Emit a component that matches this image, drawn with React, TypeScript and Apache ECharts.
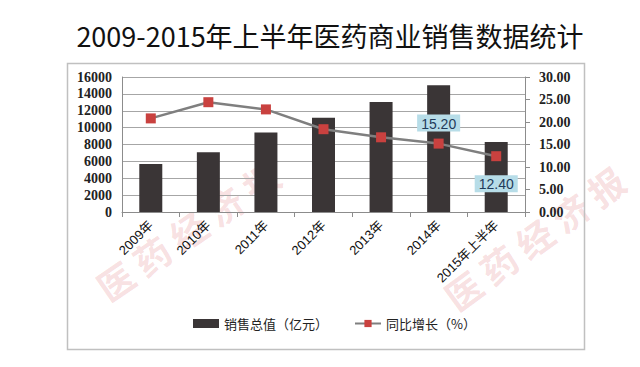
import React, { useEffect, useRef } from "react";
import * as echarts from "echarts";

const categories = ["2009年", "2010年", "2011年", "2012年", "2013年", "2014年", "2015年上半年"];
const salesValues = [5684, 7084, 9426, 11174, 13036, 15021, 8300];
const growthValues = [20.8, 24.4, 22.8, 18.4, 16.6, 15.2, 12.4];
const labeledGrowth = [false, false, false, false, false, true, true];
const leftTicks = { min: 0, max: 16000, interval: 2000 };
const rightTicks = { min: 0, max: 30, interval: 5 };
const titleText = "2009-2015年上半年医药商业销售数据统计";
const salesName = "销售总值（亿元）";
const growthName = "同比增长（%）";
const watermark = "医药经济报";

export default function App() {
  const ref = useRef<HTMLDivElement>(null);
  useEffect(() => {
    if (!ref.current) return;
    const chart = echarts.init(ref.current, undefined, { renderer: "svg" });
    const labelBox = {
      show: true,
      backgroundColor: "#b7dde8",
      color: "#1f3b5a",
      fontSize: 14,
      fontFamily: "Liberation Sans, Arial, sans-serif",
      padding: [2, 4, 1, 4],
      formatter: (p: any) => Number(p.value).toFixed(2),
    };
    const growthData = growthValues.map((v, i) => {
      if (!labeledGrowth[i]) return v;
      const above = i === 5;
      return {
        value: v,
        label: { ...labelBox, position: above ? "top" : "bottom", distance: above ? 7 : 14 },
      };
    });
    const wmStyle = {
      text: watermark.split("").join(" "),
      fontSize: 36,
      fontWeight: "bold",
      fontFamily: "Noto Sans CJK SC, sans-serif",
      fill: "rgba(215,70,80,0.18)",
      verticalAlign: "middle",
    };
    chart.setOption({
      animation: false,
      backgroundColor: "#ffffff",
      graphic: [
        {
          type: "text",
          x: 330,
          y: 35,
          z: 10,
          style: {
            text: titleText,
            fontSize: 27,
            fontFamily: "Noto Sans CJK SC, sans-serif",
            fill: "#111111",
            align: "center",
            verticalAlign: "middle",
          },
        },
        {
          type: "rect",
          shape: { x: 67.5, y: 63.5, width: 517, height: 286 },
          style: { fill: "none", stroke: "#c0c0c0", lineWidth: 1.5 },
          z: -5,
        },
        { type: "text", x: 100, y: 290, rotation: 0.6, z: -10, style: wmStyle },
        { type: "text", x: 448, y: 300, rotation: 0.63, z: -10, style: wmStyle },
      ],
      legend: {
        left: 188,
        top: 312,
        itemGap: 26,
        itemWidth: 26,
        itemHeight: 9,
        textStyle: {
          fontSize: 13,
          color: "#222",
          fontFamily: "Noto Sans CJK SC, sans-serif",
        },
        data: [
          { name: salesName, icon: "rect" },
          { name: growthName },
        ],
      },
      grid: { left: 122, right: 115, top: 77, bottom: 155 },
      xAxis: {
        type: "category",
        data: categories,
        boundaryGap: true,
        axisLine: { lineStyle: { color: "#8c8c8c", width: 1 } },
        axisTick: { show: true, length: 5, inside: false, lineStyle: { color: "#8c8c8c" } },
        axisLabel: {
          rotate: 45,
          interval: 0,
          margin: 11,
          fontSize: 13,
          color: "#111",
          fontFamily: "Liberation Sans, Noto Sans CJK SC, sans-serif",
        },
      },
      yAxis: [
        {
          type: "value",
          ...leftTicks,
          axisLine: { show: true, lineStyle: { color: "#8c8c8c" } },
          axisTick: { show: false },
          splitLine: { show: true, lineStyle: { color: "#a6a6a6", width: 1 } },
          axisLabel: {
            margin: 10,
            fontSize: 14,
            fontWeight: "bold",
            color: "#222",
            fontFamily: "Liberation Serif, serif",
            formatter: (v: number) => String(v),
          },
        },
        {
          type: "value",
          ...rightTicks,
          position: "right",
          axisLine: { show: true, lineStyle: { color: "#8c8c8c" } },
          axisTick: { show: true, length: 5, lineStyle: { color: "#8c8c8c" } },
          splitLine: { show: false },
          axisLabel: {
            margin: 14,
            fontSize: 14,
            fontWeight: "bold",
            color: "#222",
            fontFamily: "Liberation Serif, serif",
            formatter: (v: number) => v.toFixed(2),
          },
        },
      ],
      series: [
        {
          name: salesName,
          type: "bar",
          data: salesValues,
          barWidth: 23,
          yAxisIndex: 0,
          itemStyle: { color: "#3a3536" },
        },
        {
          name: growthName,
          type: "line",
          data: growthData,
          yAxisIndex: 1,
          symbol: "rect",
          symbolSize: 10,
          lineStyle: { color: "#7f7f7f", width: 2.5 },
          itemStyle: { color: "#c9413f" },
          z: 5,
        },
      ],
    });
    return () => chart.dispose();
  }, []);
  return (
    <div
      ref={ref}
      style={{ position: "fixed", left: 0, top: 0, width: 640, height: 367 }}
    />
  );
}
